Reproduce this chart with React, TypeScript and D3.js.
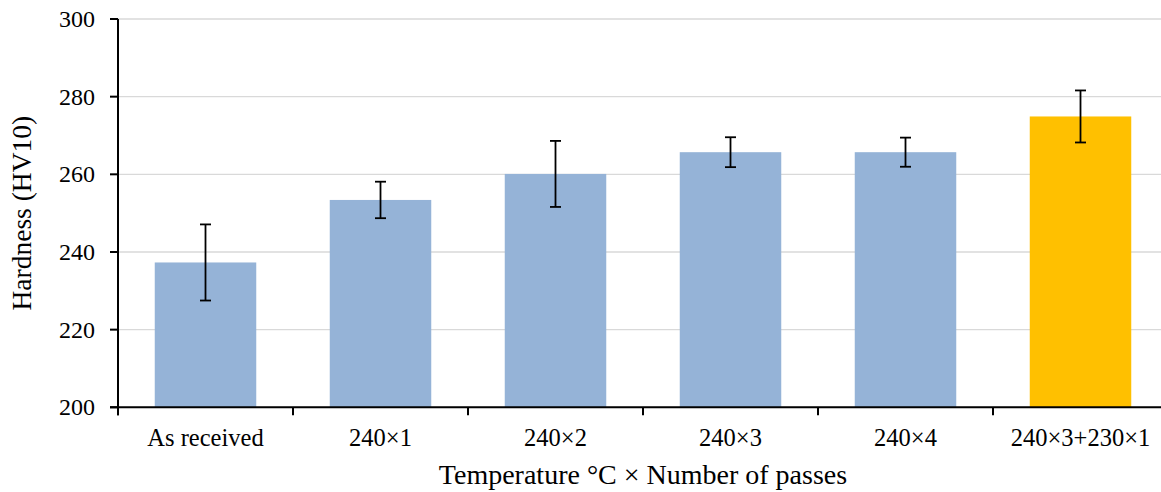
import React from "react";
import * as d3 from "d3";

const categories = ["As received", "240×1", "240×2", "240×3", "240×4", "240×3+230×1"];
const hardness = [237.3, 253.4, 260.1, 265.7, 265.7, 274.9];
const errors = [9.8, 4.7, 8.5, 3.85, 3.75, 6.7];
const barColors = ["#95B3D7", "#95B3D7", "#95B3D7", "#95B3D7", "#95B3D7", "#FFC000"];
const yTicks = [200, 220, 240, 260, 280, 300];

const W = 1161;
const H = 492;
const left = 118;
const right = 1168;
const top = 19;
const bottom = 407.3;
const FONT = "'Liberation Serif', 'Times New Roman', serif";

export default function App() {
  const x = d3.scaleBand<string>().domain(categories).range([left, right]).paddingInner(0.42).paddingOuter(0.21);
  const step = (right - left) / categories.length;
  const y = d3.scaleLinear().domain([200, 300]).range([bottom, top]);

  return (
    <svg width={W} height={H} style={{ position: "absolute", left: 0, top: 0 }}>
      <rect x={0} y={0} width={W} height={H} fill="#fff" />
      {yTicks.map((t) => (
        <line key={"g" + t} x1={left} x2={W} y1={y(t)} y2={y(t)} stroke="#D9D9D9" strokeWidth={1.3} />
      ))}
      {categories.map((c, i) => (
        <rect key={c} x={x(c)} y={y(hardness[i])} width={x.bandwidth()} height={y(200) - y(hardness[i])} fill={barColors[i]} />
      ))}
      {categories.map((c, i) => {
        const cx = (x(c) as number) + x.bandwidth() / 2;
        const y1 = y(hardness[i] + errors[i]);
        const y2 = y(hardness[i] - errors[i]);
        return (
          <g key={"e" + c} stroke="#000" strokeWidth={1.8}>
            <line x1={cx} x2={cx} y1={y1} y2={y2} />
            <line x1={cx - 5.5} x2={cx + 5.5} y1={y1} y2={y1} />
            <line x1={cx - 5.5} x2={cx + 5.5} y1={y2} y2={y2} />
          </g>
        );
      })}
      {/* axes */}
      <line x1={left} x2={left} y1={top} y2={bottom + 8} stroke="#000" strokeWidth={2} />
      <line x1={left - 8} x2={W} y1={bottom} y2={bottom} stroke="#000" strokeWidth={2} />
      {yTicks.map((t) => (
        <g key={"t" + t}>
          <line x1={left - 8} x2={left} y1={y(t)} y2={y(t)} stroke="#000" strokeWidth={2} />
          <text x={95} y={y(t)} dy="0.34em" textAnchor="end" fontFamily={FONT} fontSize={24} fill="#000">
            {t}
          </text>
        </g>
      ))}
      {categories.map((c, i) => (
        <line key={"xt" + c} x1={left + step * i} x2={left + step * i} y1={bottom} y2={bottom + 8} stroke="#000" strokeWidth={2} />
      ))}
      {categories.map((c) => (
        <text key={"xl" + c} x={(x(c) as number) + x.bandwidth() / 2} y={446} textAnchor="middle" fontFamily={FONT} fontSize={24.5} fill="#000">
          {c}
        </text>
      ))}
      <text x={(left + right) / 2} y={484} textAnchor="middle" fontFamily={FONT} fontSize={28} fill="#000">
        Temperature °C × Number of passes
      </text>
      <text transform={`translate(31, ${(top + bottom) / 2}) rotate(-90)`} textAnchor="middle" fontFamily={FONT} fontSize={27.5} fill="#000">
        Hardness (HV10)
      </text>
    </svg>
  );
}
